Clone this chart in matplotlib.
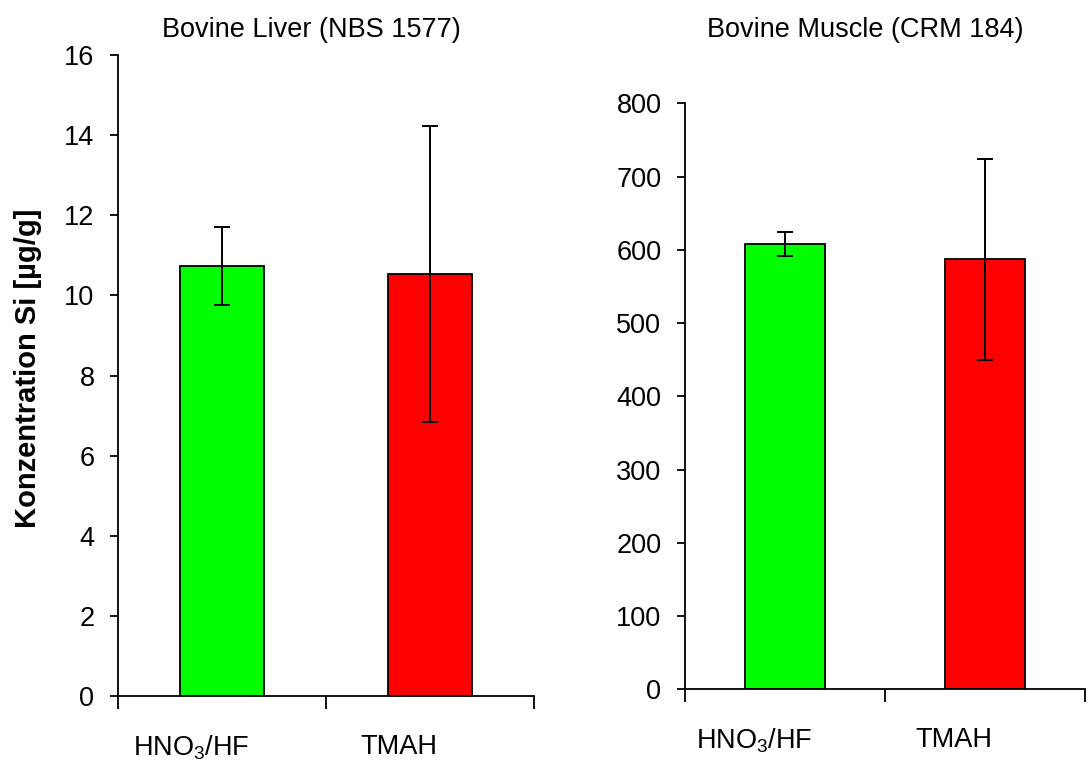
import matplotlib
matplotlib.use("Agg")
import matplotlib.pyplot as plt
import matplotlib.transforms as mtransforms
import numpy as np

plt.rcParams['font.family'] = ['Liberation Sans', 'DejaVu Sans']
plt.rcParams['mathtext.default'] = 'regular'

# Data
methods = ['HNO$_3$/HF', 'TMAH']
colors = ['#00ff00', '#ff0000']

liver_title = 'Bovine Liver (NBS 1577)'
liver_values = [10.73, 10.54]
liver_errors = [0.98, 3.70]
liver_ticks = [0, 2, 4, 6, 8, 10, 12, 14, 16]

muscle_title = 'Bovine Muscle (CRM 184)'
muscle_values = [608, 587]
muscle_errors = [16, 137]
muscle_ticks = [0, 100, 200, 300, 400, 500, 600, 700, 800]

ylabel = 'Konzentration Si [µg/g]'

W, H, DPI = 1088, 760, 100
FS = 19.5
fig = plt.figure(figsize=(W / DPI, H / DPI), dpi=DPI)


def px_axes(x0, x1, ytop, ybot):
    return fig.add_axes([x0 / W, 1 - ybot / H, (x1 - x0) / W, (ybot - ytop) / H])


def draw_panel(ax, values, errors, ticks, title, title_x):
    x = np.arange(len(values))
    ax.bar(x, values, width=0.4, color=colors, edgecolor='black', linewidth=1.3,
           zorder=2)
    ax.errorbar(x, values, yerr=errors, fmt='none', ecolor='black',
                elinewidth=1.4, capsize=5.5, capthick=1.4, zorder=3)
    ax.set_xlim(-0.5, len(values) - 0.5)
    ax.set_ylim(ticks[0], ticks[-1])
    ax.set_yticks(ticks)
    ax.set_yticklabels([str(t) for t in ticks])
    ax.set_xticks(x)
    ax.set_xticklabels(methods)
    ax.set_xticks(np.arange(len(values) + 1) - 0.5, minor=True)
    ax.tick_params(axis='x', which='major', length=0, pad=27, labelsize=FS)
    ax.tick_params(axis='x', which='minor', length=9, width=1.3, direction='out')
    ax.tick_params(axis='y', length=6, width=1.3, direction='out', pad=11,
                   labelsize=FS)
    for s in ('top', 'right'):
        ax.spines[s].set_visible(False)
    for s in ('left', 'bottom'):
        ax.spines[s].set_linewidth(1.3)
    shift = mtransforms.ScaledTranslation(-31 / DPI, 0, fig.dpi_scale_trans)
    for lbl in ax.get_xticklabels():
        lbl.set_transform(lbl.get_transform() + shift)
    fig.text(title_x / W, 1 - 30 / H, title, ha='center', va='center',
             fontsize=FS)


ax1 = px_axes(118, 534, 55, 696)
draw_panel(ax1, liver_values, liver_errors, liver_ticks, liver_title, 311)

ax2 = px_axes(685, 1085, 103.3, 689.3)
draw_panel(ax2, muscle_values, muscle_errors, muscle_ticks, muscle_title, 865)

fig.text(28 / W, 1 - 368 / H, ylabel, rotation=90, ha='center', va='center',
         fontsize=21, fontweight='bold')

fig.savefig('out.png', dpi=DPI)
